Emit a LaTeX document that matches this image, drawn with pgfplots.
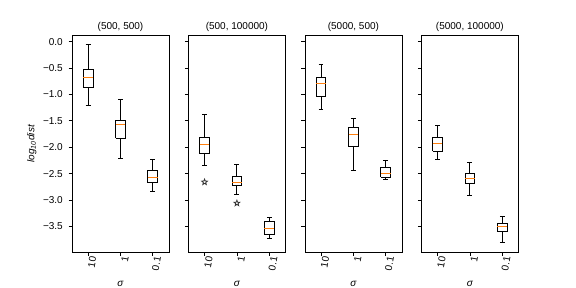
\documentclass[border=0pt]{standalone}
\usepackage{fontspec}
\setmainfont{Liberation Sans}
\usepackage{pgfplots}
\pgfplotsset{compat=1.18}
\definecolor{mplorange}{HTML}{FF7F0E}
\pgfdeclareplotmark{hstar}{%
  \pgfpathmoveto{\pgfpointpolar{90}{\pgfplotmarksize}}%
  \pgfpathlineto{\pgfpointpolar{126}{0.42\pgfplotmarksize}}%
  \pgfpathlineto{\pgfpointpolar{162}{\pgfplotmarksize}}%
  \pgfpathlineto{\pgfpointpolar{198}{0.42\pgfplotmarksize}}%
  \pgfpathlineto{\pgfpointpolar{234}{\pgfplotmarksize}}%
  \pgfpathlineto{\pgfpointpolar{270}{0.42\pgfplotmarksize}}%
  \pgfpathlineto{\pgfpointpolar{306}{\pgfplotmarksize}}%
  \pgfpathlineto{\pgfpointpolar{342}{0.42\pgfplotmarksize}}%
  \pgfpathlineto{\pgfpointpolar{18}{\pgfplotmarksize}}%
  \pgfpathlineto{\pgfpointpolar{54}{0.42\pgfplotmarksize}}%
  \pgfpathclose\pgfusepathqstroke}
\newcommand{\fs}{\fontsize{10bp}{12bp}\selectfont}
\pgfplotsset{
  panel/.style={
    scale only axis, width=97bp, height=217bp, anchor=south west,
    xmin=0.5, xmax=3.5, ymin=-3.99, ymax=0.12,
    xtick={1,2,3}, xticklabels={10,1,0.1},
    ytick={-3.5,-3,-2.5,-2,-1.5,-1,-0.5,0},
    tick align=outside, xtick pos=bottom, ytick pos=left,
    major tick length=3.5bp,
    tick style={black, line width=0.8bp},
    axis line style={line width=0.8bp},
    xticklabel style={rotate=80, anchor=east, font=\fs, inner sep=0pt, yshift=-5bp},
    yticklabel style={font=\fs, inner sep=0pt, xshift=-5.5bp},
    title style={font=\fs, at={(axis description cs:0.5,1)}, anchor=base, yshift=-0.5bp},
    xlabel={\itshape σ},
    xlabel style={font=\fs, at={(axis description cs:0.5,0)}, anchor=base, yshift=-34.5bp},
    unbounded coords=jump,
  },
  bxline/.style={black, line width=1bp, mark=none, line join=miter},
  mdline/.style={mplorange, line width=1bp, mark=none},
  outl/.style={only marks, mark=hstar, mark size=3bp,
    mark options={draw=black!80, line width=0.8bp, fill=none}},
}
% \bp{position}{lower whisker}{lower quartile}{median}{upper quartile}{upper whisker}
\newcommand{\bp}[6]{%
  \pgfmathsetmacro\xL{#1-0.15}\pgfmathsetmacro\xR{#1+0.15}%
  \pgfmathsetmacro\cL{#1-0.075}\pgfmathsetmacro\cR{#1+0.075}%
  \edef\bptmp{%
    \noexpand\addplot[bxline] coordinates {(\xL,#3) (\xR,#3) (\xR,#5) (\xL,#5) (\xL,#3)
      (nan,nan) (#1,#3) (#1,#2) (nan,nan) (\cL,#2) (\cR,#2)
      (nan,nan) (#1,#5) (#1,#6) (nan,nan) (\cL,#6) (\cR,#6)};
    \noexpand\addplot[mdline] coordinates {(\xL,#4) (\xR,#4)};
  }\bptmp}
\begin{document}
\begin{tikzpicture}
\useasboundingbox (0,0) rectangle (576bp,288bp);
% Panel 1
\begin{axis}[panel, at={(72bp,35.7bp)}, title={(500, 500)},
  yticklabels={−3.5,−3.0,−2.5,−2.0,−1.5,−1.0,−0.5,0.0},
  ylabel={\itshape log\textsubscript{10}dist},
  ylabel style={font=\fs, at={(axis description cs:-0.415,0.5)}, anchor=center}]
\bp{1}{-1.21}{-0.87}{-0.68}{-0.53}{-0.057}
\bp{2}{-2.21}{-1.83}{-1.57}{-1.50}{-1.10}
\bp{3}{-2.84}{-2.67}{-2.57}{-2.45}{-2.24}
\end{axis}
% Panel 2
\begin{axis}[panel, at={(188.4bp,35.7bp)}, title={(500, 100000)}, yticklabels={}]
\bp{1}{-2.35}{-2.12}{-1.95}{-1.82}{-1.38}
\bp{2}{-2.89}{-2.72}{-2.66}{-2.55}{-2.33}
\bp{3}{-3.73}{-3.65}{-3.54}{-3.41}{-3.33}
\addplot[outl] coordinates {(1,-2.66) (2,-3.06)};
\end{axis}
% Panel 3
\begin{axis}[panel, at={(304.9bp,35.7bp)}, title={(5000, 500)}, yticklabels={}]
\bp{1}{-1.29}{-1.04}{-0.79}{-0.68}{-0.44}
\bp{2}{-2.44}{-1.99}{-1.76}{-1.63}{-1.46}
\bp{3}{-2.61}{-2.57}{-2.50}{-2.38}{-2.25}
\end{axis}
% Panel 4
\begin{axis}[panel, at={(421.4bp,35.7bp)}, title={(5000, 100000)}, yticklabels={}]
\bp{1}{-2.23}{-2.08}{-1.93}{-1.82}{-1.59}
\bp{2}{-2.91}{-2.69}{-2.59}{-2.50}{-2.29}
\bp{3}{-3.80}{-3.59}{-3.50}{-3.44}{-3.31}
\end{axis}
\end{tikzpicture}
\end{document}
